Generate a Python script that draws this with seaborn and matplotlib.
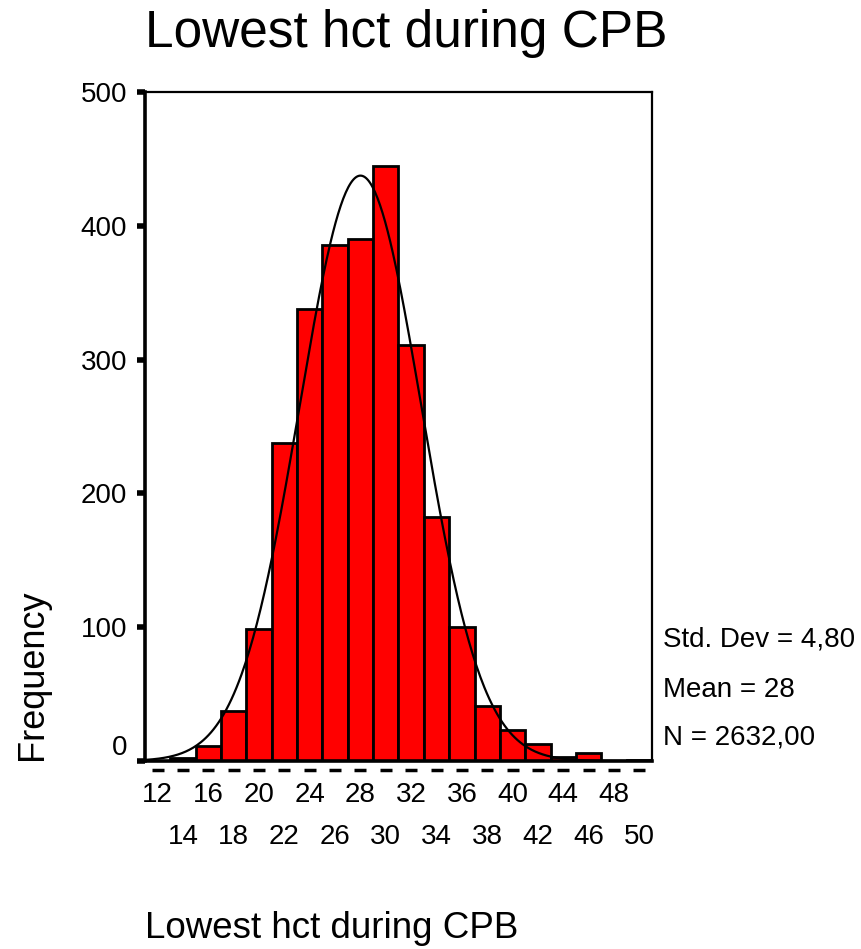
import numpy as np
import pandas as pd
import matplotlib
matplotlib.use("Agg")
import matplotlib.pyplot as plt
import matplotlib.transforms as mtransforms
import seaborn as sns

# Histogram of lowest haematocrit during cardiopulmonary bypass (bin width 2)
bin_centers = [12, 14, 16, 18, 20, 22, 24, 26, 28, 30,
               32, 34, 36, 38, 40, 42, 44, 46, 48, 50]
frequencies = [0, 2, 11, 37, 99, 238, 338, 386, 390, 445,
               311, 182, 100, 41, 23, 13, 3, 6, 0, 1]
y_ticks = [0, 100, 200, 300, 400, 500]
x_labels_upper = ["12", "16", "20", "24", "28", "32", "36", "40", "44", "48"]
x_labels_lower = ["14", "18", "22", "26", "30", "34", "38", "42", "46", "50"]

std_dev = 4.80
mean = 28
n_total = 2632
bin_width = 2

title = "Lowest hct during CPB"
x_title = "Lowest hct during CPB"
y_title = "Frequency"
stats_lines = ["Std. Dev = 4,80", "Mean = 28", "N = 2632,00"]

sns.set_theme(style="white")
plt.rcParams["font.family"] = ["Liberation Sans", "DejaVu Sans"]
plt.rcParams["text.color"] = "black"
plt.rcParams["xtick.color"] = "black"
plt.rcParams["ytick.color"] = "black"
plt.rcParams["xtick.labelcolor"] = "black"
plt.rcParams["ytick.labelcolor"] = "black"

W, H = 862, 949
fig = plt.figure(figsize=(W / 100, H / 100), dpi=100)
ax_left, ax_right, ax_top, ax_bottom = 145, 652, 92, 761
ax = fig.add_axes([ax_left / W, 1 - ax_bottom / H,
                   (ax_right - ax_left) / W, (ax_bottom - ax_top) / H])

df = pd.DataFrame({"hct": bin_centers, "count": frequencies})
sns.histplot(data=df, x="hct", weights="count", binwidth=bin_width,
             binrange=(bin_centers[0] - bin_width / 2, bin_centers[-1] + bin_width / 2),
             color="#FF0000", edgecolor="black", linewidth=2, alpha=1, ax=ax)

# Fitted normal curve scaled to counts per bin
xs = np.linspace(11, 51, 400)
pdf = n_total * bin_width / (std_dev * np.sqrt(2 * np.pi)) * np.exp(-0.5 * ((xs - mean) / std_dev) ** 2)
sns.lineplot(x=xs, y=pdf, color="black", linewidth=1.6, ax=ax)

ax.set_xlim(11, 51)
ax.set_ylim(0, 500)
ax.set_xlabel("")
ax.set_ylabel("")

for side in ["top", "right"]:
    ax.spines[side].set_linewidth(1.6)
    ax.spines[side].set_color("black")
for side in ["left", "bottom"]:
    ax.spines[side].set_linewidth(2.6)
    ax.spines[side].set_color("black")

ax.set_yticks(y_ticks)
ax.set_yticklabels([str(v) for v in y_ticks])
ax.tick_params(axis="y", direction="out", length=6, width=4, color="black",
               labelsize=20, pad=7, left=True)
ax.get_yticklabels()[0].set_verticalalignment("bottom")

# Two staggered rows of x labels
ax.set_xticks(bin_centers[0::2])
ax.set_xticklabels(x_labels_upper)
ax.set_xticks(bin_centers[1::2], minor=True)
ax.set_xticklabels(x_labels_lower, minor=True)
ax.tick_params(axis="x", which="major", length=0, labelsize=20, pad=15)
ax.tick_params(axis="x", which="minor", length=0, labelsize=20, pad=45)

# Dashes under the baseline at every bin centre
trans = mtransforms.blended_transform_factory(ax.transData, ax.transAxes)
ax.plot(bin_centers, [-0.013] * len(bin_centers), linestyle="none", marker="_",
        markersize=8, markeredgewidth=2.5, color="black", transform=trans, clip_on=False)

fig.text(ax_left / W, 1 - 33 / H, title, fontsize=37, ha="left", va="center")
fig.text(ax_left / W, 1 - 928 / H, x_title, fontsize=26.5, ha="left", va="center")
fig.text(33 / W, 1 - 760 / H, y_title, fontsize=26, rotation=90, ha="center", va="bottom")
for yy, line in zip([640, 690, 738], stats_lines):
    fig.text(663 / W, 1 - yy / H, line, fontsize=20, ha="left", va="center")

fig.savefig("out.png", dpi=100, facecolor="white")
